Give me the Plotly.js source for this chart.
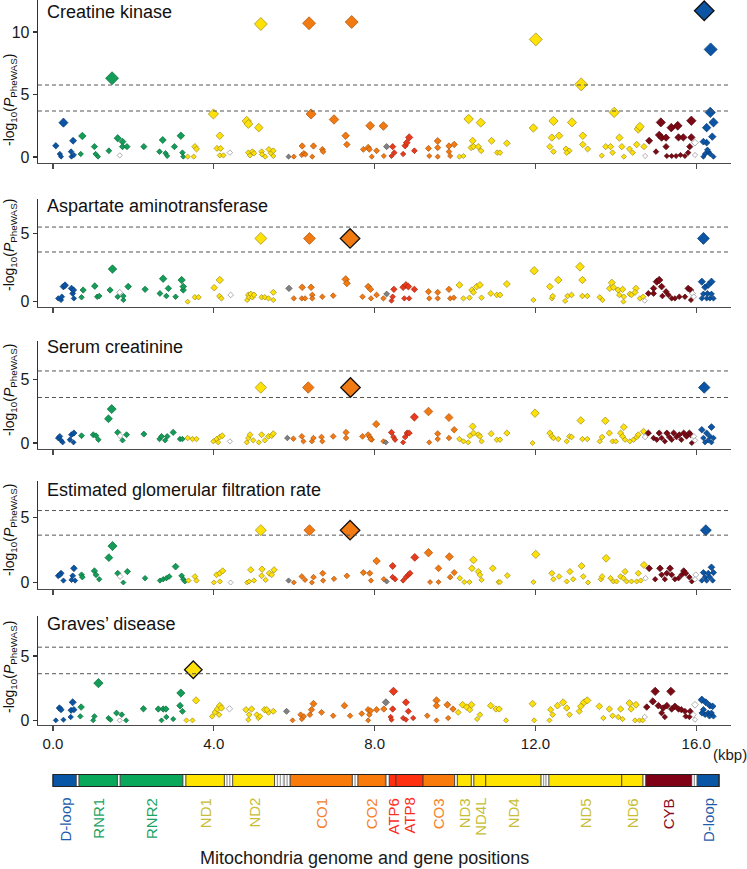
<!DOCTYPE html>
<html>
<head>
<meta charset="utf-8">
<script src="https://cdn.plot.ly/plotly-3.0.1.min.js"></script>
<style>body{margin:0;background:#fff}#chart{width:747px;height:869px}</style>
</head>
<body>
<div id="chart"></div>
<script>
// PheWAS panels, variants as [position (kbp), -log10(P)]
var panelNames = ['Creatine kinase', 'Aspartate aminotransferase', 'Serum creatinine',
    'Estimated glomerular filtration rate', 'Graves\u2019 disease'];

var ckPoints = [
  [0.07,0.9],[0.26,2.75],[0.17,0.24],[0.2,0.03],[0.45,0.43],[0.5,1.3],[0.46,0.03],[0.52,0.16],
  [0.73,1.68],[0.69,0.24],[1.03,0.83],[1.06,0.24],[1.12,0.03],[1.39,0.5],[1.47,6.3],[1.61,1.5],[1.73,1.23],[1.73,0.83],
  [1.84,0.83],[2.26,0.83],[2.65,0.43],[2.73,1.36],[2.8,0.3],[2.84,0.08],[3.02,0.83],[3.18,1.7],[3.22,0.35],[3.24,0.03],
  [1.66,0.13],
  [3.35,0.03],[3.5,0.03],[3.53,0.83],[3.57,0.64],[3.99,3.44],[4.08,0.69],[4.15,1.7],[4.17,0.69],[4.15,0.13],[4.24,0.13],
  [4.4,0.35],[4.82,2.88],[4.86,2.64],[4.86,0.35],[4.9,0.13],[4.96,0.43],[5.0,0.3],[5.12,2.35],[5.17,10.64],[5.19,0.43],
  [5.2,0.21],[5.28,0.03],[5.37,0.61],[5.42,0.3],[5.48,0.5],[5.48,0.08],
  [5.86,0.03],
  [5.99,0.03],[6.2,0.88],[6.19,0.16],[6.24,0.3],[6.28,0.21],[6.37,10.7],[6.42,3.44],[6.45,0.03],[6.48,0.88],[6.7,0.61],
  [6.72,0.43],[6.99,3.0],[7.28,1.7],[7.31,1.0],[7.43,10.8],[7.72,0.61],[7.84,0.77],[7.87,0.61],[7.89,2.5],[7.93,0.03],
  [8.05,0.5],[8.22,2.48],[8.23,0.08],
  [8.3,0.83],
  [8.45,0.83],[8.49,0.35],[8.42,0.08],[8.71,0.24],[8.76,0.9],[8.8,1.15],[8.86,1.57],[8.99,0.5],
  [9.34,0.69],[9.36,0.08],[9.57,1.28],[9.57,0.75],[9.57,0.03],[9.85,0.88],[9.85,0.43],[9.98,1.0],[9.88,0.08],
  [10.11,0.03],[10.21,0.08],[10.34,3.04],[10.44,1.3],[10.4,0.75],[10.46,0.83],[10.58,0.83],[10.65,0.5],[10.64,2.75],
  [10.91,1.3],[11.05,0.35],[11.12,0.35],[11.29,1.1],[11.95,2.32],[12.01,9.41],[12.45,2.88],[12.41,1.55],[12.59,1.7],
  [12.36,0.83],[12.45,0.43],[12.76,0.64],[12.84,0.5],[12.78,0.35],[12.91,2.77],[13.14,5.81],[13.18,1.7],[13.18,1.0],
  [13.3,0.64],[13.65,0.11],[13.75,0.83],[13.87,0.83],[13.92,0.35],[13.96,3.57],[14.09,1.55],[14.15,0.83],[14.2,0.03],
  [14.34,0.64],[14.42,0.35],[14.52,1.0],[14.56,2.24],[14.6,2.43],[14.7,0.83],
  [14.73,0.08],
  [14.83,1.3],[15.0,0.43],[15.12,2.77],[15.08,1.76],[15.14,1.55],[15.25,1.55],[15.25,0.83],[15.38,2.35],[15.39,0.08],
  [15.54,2.5],[15.56,1.57],[15.68,1.57],[15.72,0.08],[15.88,2.9],[15.88,1.57],[15.84,0.83],[15.27,0.08],[15.5,0.08],
  [15.61,0.16],[15.8,0.35],
  [15.97,1.15],[15.97,0.16],
  [16.36,8.61],[16.35,3.57],[16.43,2.77],[16.26,2.35],[16.4,1.63],[16.26,1.15],[16.18,1.23],[16.3,0.43],[16.22,0.24],
  [16.35,0.24],[16.43,0.03],[16.18,0.03],[16.28,0.56]
];

var astPoints = [
  [0.13,0.24],[0.2,0.12],[0.26,1.1],[0.3,1.2],[0.22,0.36],[0.46,0.97],[0.49,0.6],[0.52,0.24],[0.51,0.85],
  [0.75,0.85],[0.71,0.32],[1.04,1.14],[1.1,0.36],[1.15,0.41],[1.42,0.85],[1.48,2.38],[1.61,0.36],[1.75,0.12],[1.75,0.41],
  [1.87,1.1],[2.29,0.9],[2.66,0.6],[2.74,1.68],[2.82,0.41],[2.87,0.97],[3.05,0.36],[3.2,1.58],[3.24,0.85],[3.24,1.1],
  [1.66,0.68],
  [3.35,0.0],[3.53,0.32],[3.62,0.32],[4.01,1.02],[4.15,1.58],[4.14,0.41],[4.19,0.24],[4.42,0.49],[4.86,0.49],[4.83,0.12],
  [4.88,0.32],[4.92,0.56],[4.96,0.32],[5.0,0.49],[5.17,4.62],[5.19,0.32],[5.27,0.32],[5.36,0.24],[5.48,0.68],[5.48,0.12],
  [5.87,0.97],
  [5.99,0.24],[6.19,0.24],[6.2,1.05],[6.27,0.24],[6.38,4.62],[6.42,1.05],[6.45,0.49],[6.45,0.24],[6.7,0.36],[6.97,0.44],
  [7.28,1.63],[7.31,1.34],[7.7,0.36],[7.84,1.1],[7.9,0.9],[7.91,0.24],[8.05,0.49],[8.22,0.24],
  [8.3,0.56],
  [8.48,0.9],[8.45,0.36],[8.42,0.07],[8.71,1.05],[8.78,1.22],[8.84,1.1],[8.74,0.24],[8.86,0.24],[8.99,0.9],
  [9.34,0.73],[9.36,0.24],[9.57,0.68],[9.57,0.24],[9.85,0.9],[9.88,0.24],[9.97,0.29],
  [10.11,1.22],[10.21,0.24],[10.36,0.29],[10.42,0.85],[10.46,0.68],[10.54,1.1],[10.62,1.22],[10.66,0.29],[10.89,0.6],
  [11.04,0.49],[11.12,0.49],[11.29,1.29],[11.95,0.12],[11.97,2.26],[12.36,1.1],[12.41,0.24],[12.43,0.41],[12.57,1.58],
  [12.74,0.05],[12.8,0.41],[12.9,0.49],[13.11,2.55],[13.17,1.58],[13.17,0.41],[13.29,0.41],[13.6,0.32],[13.67,0.12],
  [13.9,1.39],[13.85,0.97],[13.94,1.05],[14.06,0.85],[14.09,0.49],[14.17,0.9],[14.2,0.36],[14.19,0.0],[14.35,0.56],
  [14.39,0.49],[14.5,0.97],[14.48,0.68],[14.6,0.24],[14.68,0.36],
  [14.72,0.07],
  [14.81,0.6],[14.94,0.6],[15.02,1.46],[15.08,1.58],[15.14,1.1],[15.25,0.73],[15.31,0.49],[15.39,0.24],[15.47,0.24],
  [15.58,0.36],[15.72,0.36],[15.8,0.97],[15.86,0.85],[15.87,0.12],[14.94,0.97],[15.16,0.41],
  [15.91,0.6],[15.94,0.36],
  [16.18,4.62],[16.14,1.46],[16.38,1.46],[16.22,1.05],[16.3,1.22],[16.18,0.56],[16.28,0.6],[16.38,0.56],[16.26,0.24],
  [16.34,0.24],[16.14,0.24],[16.43,0.24]
];

var crePoints = [
  [0.13,0.39],[0.2,0.21],[0.24,0.05],[0.17,0.52],[0.42,0.26],[0.46,0.65],[0.51,0.05],[0.52,0.78],
  [0.71,0.57],[1.0,0.65],[1.07,0.57],[1.13,0.26],[1.38,1.9],[1.46,2.66],[1.61,0.83],[1.73,0.21],[1.83,0.65],[2.26,0.7],
  [2.65,0.31],[2.7,0.52],[2.79,0.21],[2.84,0.52],[2.99,0.83],[3.16,0.31],[3.22,0.31],
  [1.67,0.57],
  [3.35,0.39],[3.47,0.31],[3.57,0.31],[3.99,0.13],[4.07,0.31],[4.15,0.47],[4.21,0.57],[4.11,0.05],[4.4,0.13],[4.82,0.05],
  [4.86,0.39],[4.9,0.65],[4.98,0.21],[5.12,0.05],[5.17,4.35],[5.19,0.65],[5.27,0.21],[5.36,0.52],[5.44,0.57],[5.48,0.73],
  [5.83,0.39],
  [5.98,0.34],[6.19,0.52],[6.23,0.13],[6.35,4.35],[6.44,0.13],[6.48,0.39],[6.68,0.47],[6.7,0.13],[6.97,0.52],[7.29,0.83],
  [7.29,0.39],[7.7,0.52],[7.84,0.65],[7.88,0.47],[7.93,0.26],[8.04,1.48],[7.9,0.3],[8.22,0.13],
  [8.28,0.05],
  [8.42,0.83],[8.47,0.47],[8.51,0.26],[8.71,0.05],[8.76,0.47],[8.81,0.78],[8.86,0.78],[8.99,2.03],
  [9.34,2.47],[9.36,0.05],[9.57,0.73],[9.57,0.31],[9.85,2.0],[9.85,0.39],[9.98,1.04],
  [10.11,0.31],[10.21,0.13],[10.33,0.05],[10.44,1.3],[10.37,0.57],[10.46,0.78],[10.58,0.65],[10.62,0.52],[10.66,0.13],
  [10.9,0.73],[11.04,0.26],[11.12,0.26],[11.29,0.78],[11.93,0.0],[11.99,2.34],[12.36,0.78],[12.41,0.52],[12.45,0.39],
  [12.57,0.31],[12.78,0.13],[12.85,0.52],[12.9,0.47],[13.13,1.77],[13.17,0.31],[13.29,0.31],[13.6,0.13],[13.66,0.47],
  [13.74,1.74],[13.84,0.78],[13.92,0.13],[14.0,0.13],[14.12,0.78],[14.17,0.52],[14.2,1.25],[14.23,0.26],[14.35,0.13],
  [14.44,0.26],[14.52,0.47],[14.56,0.65],[14.69,0.91],
  [14.73,0.47],
  [14.81,0.78],[14.94,0.39],[15.02,0.26],[15.08,0.78],[15.14,0.39],[15.22,0.13],[15.27,0.78],[15.33,0.47],[15.39,0.26],
  [15.44,0.78],[15.51,0.47],[15.58,0.65],[15.63,0.26],[15.69,0.78],[15.76,0.52],[15.83,0.78],[15.89,0.0],[15.86,0.65],
  [15.94,0.52],[15.97,0.21],
  [16.2,4.35],[16.14,1.04],[16.38,1.25],[16.26,0.78],[16.34,0.52],[16.18,0.39],[16.3,0.21],[16.43,0.39],[16.22,0.05],
  [16.38,0.05]
];

var egfrPoints = [
  [0.13,0.51],[0.2,0.71],[0.26,0.15],[0.17,0.59],[0.46,0.2],[0.52,1.09],[0.49,0.51],[0.55,0.15],
  [0.71,0.59],[0.73,0.41],[1.03,0.89],[1.07,0.59],[1.15,0.25],[1.39,1.91],[1.48,2.8],[1.61,0.71],[1.75,0.0],[1.85,0.84],
  [2.29,0.33],[2.66,0.15],[2.74,0.25],[2.82,0.33],[2.89,0.46],[3.05,1.22],[3.2,0.51],[3.24,0.25],[3.28,0.08],
  [1.67,0.46],
  [3.37,0.15],[3.53,0.46],[3.57,0.15],[4.0,0.0],[4.07,0.59],[4.15,0.71],[4.22,0.89],[4.15,0.08],[4.42,0.0],[4.83,0.0],
  [4.88,0.08],[4.92,0.97],[5.0,0.15],[5.17,4.02],[5.2,1.02],[5.19,0.51],[5.29,0.2],[5.38,0.71],[5.5,0.97],[5.44,0.59],
  [5.86,0.15],
  [5.99,0.0],[6.19,0.46],[6.27,0.2],[6.38,4.02],[6.44,0.0],[6.48,0.41],[6.71,0.71],[6.72,0.15],[6.99,0.28],[7.31,0.51],
  [7.72,0.76],[7.88,0.71],[7.91,0.15],[8.05,1.65],[8.23,0.25],
  [8.3,0.08],
  [8.45,1.27],[8.45,0.41],[8.51,0.25],[8.71,0.15],[8.78,0.41],[8.84,0.59],[8.88,0.71],[9.0,1.93],
  [9.34,2.29],[9.38,0.03],[9.59,1.09],[9.59,0.03],[9.86,1.98],[9.88,0.41],[9.98,0.76],
  [10.12,0.33],[10.23,0.03],[10.36,0.03],[10.46,1.73],[10.42,1.09],[10.58,0.84],[10.62,0.59],[10.66,0.2],[10.94,1.09],
  [11.08,0.03],[11.12,0.03],[11.3,0.53],[11.95,0.03],[12.01,2.16],[12.41,0.71],[12.45,0.25],[12.59,0.46],[12.78,0.08],
  [12.86,0.84],[12.94,0.25],[13.15,1.27],[13.19,0.46],[13.31,0.0],[13.63,0.25],[13.66,0.46],[13.76,1.86],[13.87,0.33],
  [13.94,0.08],[14.02,0.08],[14.12,0.46],[14.19,0.33],[14.23,0.84],[14.27,0.08],[14.39,0.08],[14.52,0.08],[14.56,0.71],
  [14.62,0.15],[14.7,1.35],
  [14.74,0.33],
  [14.83,1.09],[14.98,0.25],[15.1,1.09],[15.14,0.59],[15.22,0.25],[15.35,1.09],[15.39,0.59],[15.47,0.25],[15.64,0.59],
  [15.69,0.89],[15.74,0.71],[15.83,0.41],[15.89,0.08],[15.27,0.71],[15.56,0.33],
  [15.99,0.59],[15.97,0.25],
  [16.24,4.02],[16.38,1.17],[16.18,0.76],[16.3,0.71],[16.43,0.76],[16.22,0.41],[16.34,0.41],[16.26,0.15],[16.41,0.15],
  [16.14,0.15]
];

var gdPoints = [
  [0.07,0.0],[0.16,0.96],[0.2,0.83],[0.26,0.05],[0.45,0.78],[0.49,1.4],[0.52,0.83],[0.44,0.26],
  [0.7,1.03],[0.68,0.31],[1.03,0.31],[1.0,0.0],[1.13,2.89],[1.38,0.18],[1.43,0.05],[1.58,0.57],[1.71,0.44],[1.82,0.0],
  [2.25,0.9],[2.62,0.88],[2.74,0.88],[2.81,0.88],[2.82,0.26],[2.99,0.1],[2.7,0.0],[3.16,1.14],[3.18,2.12],[3.22,0.7],
  [1.66,0.0],
  [3.32,0.0],[3.47,0.0],[3.56,1.55],[3.96,0.31],[4.03,0.62],[4.09,0.88],[4.15,1.14],[4.19,0.96],[4.13,0.44],[4.39,0.9],
  [4.8,0.83],[4.86,0.05],[4.88,0.44],[4.94,0.88],[5.07,0.44],[5.11,0.18],[5.15,0.31],[5.26,0.83],[5.36,0.62],[5.48,0.7],
  [5.32,0.83],
  [5.81,0.7],
  [5.96,0.0],[6.16,0.44],[6.19,0.1],[6.24,0.31],[6.39,0.44],[6.43,0.83],[6.48,1.29],[6.68,0.62],[6.97,0.36],[7.25,1.14],
  [7.39,0.36],[7.68,0.52],[7.84,0.83],[7.87,0.44],[7.84,0.0],[8.05,0.83],[7.9,0.74],[8.23,0.88],
  [8.28,1.4],
  [8.47,2.25],[8.45,0.88],[8.4,0.26],[8.42,0.05],[8.71,0.18],[8.78,1.4],[8.84,0.7],[8.78,0.05],[8.96,0.18],
  [9.31,0.36],[9.54,1.55],[9.54,1.14],[9.54,0.0],[9.81,1.21],[9.83,0.18],[9.95,0.88],
  [10.08,0.62],[10.19,1.21],[10.29,1.03],[10.37,0.83],[10.41,1.21],[10.55,0.1],[10.62,0.44],[10.89,1.14],[11.02,0.88],
  [11.1,0.88],[11.27,0.0],[11.93,1.29],[11.97,0.0],[12.35,0.0],[12.38,0.83],[12.43,0.44],[12.55,1.14],[12.69,1.4],
  [12.78,0.96],[12.85,0.44],[13.09,0.7],[13.13,1.09],[13.21,1.4],[13.29,1.55],[13.59,1.09],[13.69,0.18],[13.84,0.88],
  [13.92,0.36],[14.06,0.26],[14.12,0.88],[14.17,0.1],[14.34,1.34],[14.38,0.88],[14.5,1.21],[14.48,0.0],[14.59,0.0],
  [14.67,0.0],
  [14.72,0.26],
  [14.77,1.03],[14.92,1.47],[14.98,2.25],[15.06,1.14],[15.18,0.96],[15.22,0.26],[15.27,1.14],[15.37,2.25],[15.39,0.88],
  [15.47,1.09],[15.56,0.88],[15.63,0.83],[15.72,0.7],[15.74,0.31],[15.85,0.7],[15.83,0.26],[15.14,0.57],
  [15.97,1.21],[15.93,0.44],[15.97,0.05],
  [16.14,1.6],[16.24,1.4],[16.34,1.14],[16.41,1.09],[16.18,0.83],[16.3,0.57],[16.38,0.57],[16.22,0.44],[16.33,0.31],
  [16.43,0.31],[16.14,0.57]
];

// lead variant of each panel (outlined)
var leadX = [16.2, 7.39, 7.4, 7.39, 3.49];
var leadY = [11.7, 4.62, 4.35, 4.02, 3.93];
// significance thresholds
var sigHi = [5.76, 5.45, 5.65, 5.53, 5.68];
var sigLo = [3.68, 3.63, 3.57, 3.64, 3.62];

// mitochondrial genome map (kbp)
var geneNames = ['D-loop','RNR1','RNR2','ND1','ND2','CO1','CO2','ATP6','ATP8','CO3','ND3','ND4L','ND4','ND5','ND6','CYB','D-loop'];
var geneStart = [0, 0.648, 1.671, 3.307, 4.470, 5.904, 7.586, 8.527, 8.366, 9.207, 10.059, 10.470, 10.766, 12.337, 14.149, 14.747, 16.024];
var geneEnd   = [0.576, 1.601, 3.229, 4.262, 5.511, 7.445, 8.269, 9.207, 8.527, 9.990, 10.404, 10.766, 12.137, 14.148, 14.673, 15.887, 16.569];
var geneKind  = ['dloop','rrna','rrna','nd','nd','co','co','atp','atp','co','nd','nd','nd','nd','nd','cyb','dloop'];
var trnaStart = [0.577, 1.602, 3.230, 4.263, 4.331, 4.402, 5.512, 5.587, 5.657, 5.761, 5.826, 7.446, 7.518, 8.295, 9.991, 10.405, 12.138, 12.207, 12.266, 14.674, 15.888, 15.956];
var trnaEnd   = [0.647, 1.670, 3.304, 4.331, 4.400, 4.469, 5.579, 5.655, 5.729, 5.826, 5.891, 7.514, 7.585, 8.364, 10.058, 10.469, 12.206, 12.265, 12.336, 14.742, 15.953, 16.023];

// region of each variant, for its colour
var regionEdge = [0, 0.6, 1.63, 1.70, 3.30, 4.30, 4.46, 5.70, 5.90, 8.26, 8.36, 9.20, 10.05, 14.71, 14.76, 15.90, 16.10, 16.6];
var regionKind = ['dloop','rrna','trna','rrna','nd','trna','nd','nc','co','nc','atp','co','nd','trna','cyb','trna','dloop'];

var fillOf = {dloop:'#0b55a4', rrna:'#139d58', nd:'#ffe10a', co:'#f27a12', atp:'#e93a1b', cyb:'#7c0a16', nc:'#808080', trna:'#ffffff'};
var edgeOf = {dloop:'#063a72', rrna:'#0a6a3a', nd:'#9c8a18', co:'#a9520c', atp:'#a02410', cyb:'#4c0409', nc:'#555555', trna:'#8c8c8c'};
var barOf = {dloop:'#0a56a6', rrna:'#0aa85a', nd:'#ffe400', co:'#f97b0b', atp:'#ff3010', cyb:'#800015'};
var textOf = {dloop:'#1f5daa', rrna:'#1aa463', nd:'#c8bd35', co:'#f5812a', atp:'#fb2e1c', cyb:'#8a0d1f'};

function kindAt(x) {
    for (var k = 0; k < regionKind.length; k++) {
        if (x < regionEdge[k + 1]) return regionKind[k];
    }
    return regionKind[regionKind.length - 1];
}
function sizeOf(v) {
    return Math.min(5 + 1.5 * v, 13) / 1.3;
}

var panels = [ckPoints, astPoints, crePoints, egfrPoints, gdPoints];
// pixel extents of each panel (top, bottom) and y ranges
var panelPx = [[0, 163], [199, 307], [341, 449], [481, 589], [616, 725]];
var yRanges = [[-0.48, 12.56], [-0.39, 7.5], [-0.47, 8.0], [-0.5, 7.8], [-0.36, 8.1]];
var titleMid = [100, 245, 390, 530, 667];
var nameMid = [12, 206, 347, 490, 624];
var W = 747, H = 869;
var font = 'Liberation Sans, Arial, Helvetica, sans-serif';

var data = [];
var layout = {
    width: W, height: H,
    margin: {l: 0, r: 0, t: 0, b: 0},
    showlegend: false,
    paper_bgcolor: '#ffffff',
    plot_bgcolor: 'rgba(0,0,0,0)',
    font: {family: font, size: 15, color: '#1a1a1a'},
    shapes: [],
    annotations: []
};

panels.forEach(function(pts, i) {
    var s = i === 0 ? '' : String(i + 1);
    var xs = pts.map(function(p) { return p[0]; });
    var ys = pts.map(function(p) { return p[1]; });
    var kinds = xs.map(kindAt);
    data.push({
        type: 'scatter', mode: 'markers', xaxis: 'x' + s, yaxis: 'y' + s,
        x: xs, y: ys, hoverinfo: 'skip', cliponaxis: false,
        marker: {
            symbol: 'diamond', opacity: 1,
            size: ys.map(sizeOf),
            color: kinds.map(function(k) { return fillOf[k]; }),
            line: {width: 0.7, color: kinds.map(function(k) { return edgeOf[k]; })}
        }
    });
    data.push({
        type: 'scatter', mode: 'markers', xaxis: 'x' + s, yaxis: 'y' + s,
        x: [leadX[i]], y: [leadY[i]], hoverinfo: 'skip', cliponaxis: false,
        marker: {symbol: 'diamond', opacity: 1, size: i === 4 ? 13.5 : 15, color: fillOf[kindAt(leadX[i])],
                 line: {width: 1.3, color: '#111111'}}
    });

    layout['xaxis' + s] = {
        domain: [38 / W, 731 / W], range: [-0.373, 16.866], anchor: 'y' + s,
        showline: true, linecolor: '#4a4a4a', linewidth: 1.3,
        ticks: 'outside', ticklen: 5, tickwidth: 1.2, tickcolor: '#4a4a4a',
        tickvals: [0, 4, 8, 12, 16], tickformat: '.1f',
        showticklabels: i === 4, tickfont: {size: 15},
        showgrid: false, zeroline: false, fixedrange: true
    };
    layout['yaxis' + s] = {
        domain: [1 - panelPx[i][1] / H, 1 - panelPx[i][0] / H], range: yRanges[i], anchor: 'x' + s,
        showline: true, linecolor: '#333333', linewidth: 1.3,
        ticks: 'outside', ticklen: 4, tickwidth: 1.2, tickcolor: '#333333',
        tickvals: i === 0 ? [0, 5, 10] : [0, 5], tickfont: {size: 16},
        showgrid: false, zeroline: false, fixedrange: true
    };

    [sigHi[i], sigLo[i]].forEach(function(v) {
        layout.shapes.push({
            type: 'line', xref: 'x' + s + ' domain', yref: 'y' + s,
            x0: 0, x1: 1, y0: v, y1: v,
            line: {color: '#555555', width: 1, dash: '4px,3px'}
        });
    });

    layout.annotations.push({
        text: panelNames[i], xref: 'paper', yref: 'paper',
        x: 45 / W, y: 1 - nameMid[i] / H, xanchor: 'left', yanchor: 'middle',
        showarrow: false, font: {size: 18, color: '#111111'}
    });
    layout.annotations.push({
        text: '-log<sub>10</sub>(<i>P</i><sub>PheWAS</sub>)', xref: 'paper', yref: 'paper',
        x: 10 / W, y: 1 - titleMid[i] / H, xanchor: 'center', yanchor: 'middle',
        textangle: -90, showarrow: false, font: {size: 14, color: '#111111'}
    });
});

// genome bar
var barTop = 1 - 774.5 / H, barBot = 1 - 786.5 / H;
layout.shapes.push({type: 'rect', xref: 'x5', yref: 'paper', x0: 0, x1: 16.569, y0: barBot, y1: barTop,
    fillcolor: '#ffffff', line: {width: 0}});
trnaStart.forEach(function(a, k) {
    layout.shapes.push({type: 'rect', xref: 'x5', yref: 'paper', x0: a, x1: trnaEnd[k], y0: barBot, y1: barTop,
        fillcolor: '#ffffff', line: {color: '#8a8a8a', width: 0.8}});
});
geneNames.forEach(function(g, k) {
    layout.shapes.push({type: 'rect', xref: 'x5', yref: 'paper', x0: geneStart[k], x1: geneEnd[k], y0: barBot, y1: barTop,
        fillcolor: barOf[geneKind[k]], line: {color: '#3a3a3a', width: 0.8}});
    var shift = g === 'ATP6' ? -16 : (g === 'ATP8' ? 16 : 0);
    layout.annotations.push({
        text: g, xref: 'x5', yref: 'paper', x: (geneStart[k] + geneEnd[k]) / 2, xshift: shift,
        y: 1 - 796 / H, xanchor: 'center', yanchor: 'top', textangle: -90,
        showarrow: false, font: {size: 15, color: textOf[geneKind[k]]}
    });
});
layout.shapes.push({type: 'rect', xref: 'x5', yref: 'paper', x0: 0, x1: 16.569, y0: barBot, y1: barTop,
    fillcolor: 'rgba(0,0,0,0)', line: {color: '#222222', width: 1.2}});

layout.annotations.push({
    text: '(kbp)', xref: 'paper', yref: 'paper', x: 730 / W, y: 1 - 754 / H,
    xanchor: 'center', yanchor: 'middle', showarrow: false, font: {size: 15, color: '#1a1a1a'}
});
layout.annotations.push({
    text: 'Mitochondria genome and gene positions', xref: 'paper', yref: 'paper',
    x: 364 / W, y: 1 - 858 / H, xanchor: 'center', yanchor: 'middle',
    showarrow: false, font: {size: 18, color: '#1a1a1a'}
});

Plotly.newPlot('chart', data, layout, {displayModeBar: false, staticPlot: true});
</script>
</body>
</html>
